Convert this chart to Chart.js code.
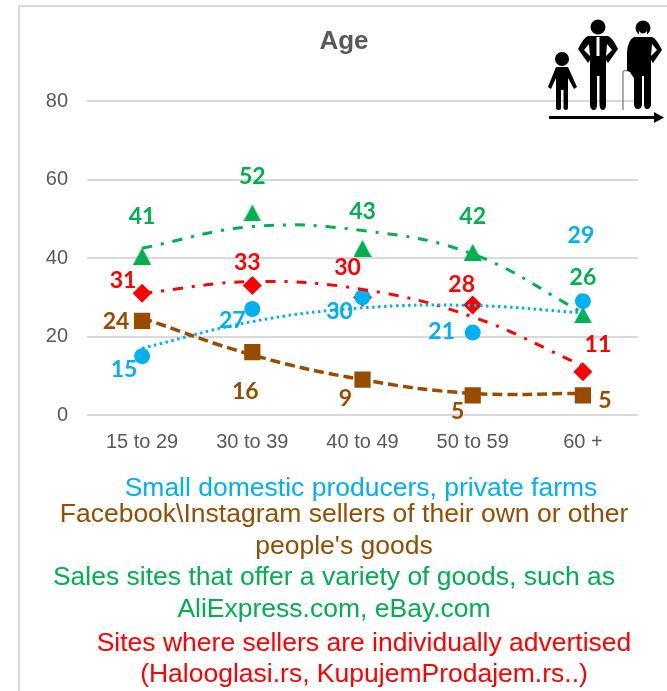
<!DOCTYPE html>
<html>
<head>
<meta charset="utf-8">
<title>Age</title>
<script src="https://cdn.jsdelivr.net/npm/chart.js@4"></script>
<style>
    html, body { margin: 0; padding: 0; background: #fff; overflow: hidden; }
    #wrap { position: relative; width: 667px; height: 691px; overflow: hidden; }
    #frame { position: absolute; left: 18px; top: 5px; width: 700px; height: 800px; border-left: 2px solid #d9d9d9; border-top: 2px solid #d9d9d9; }
    canvas { position: absolute; left: 0; top: 0; }
    #icon { position: absolute; left: 0; top: 0; }
    .txt { position: absolute; white-space: nowrap; transform: translate(-50%, -50%); font-family: "Liberation Sans", Arial, sans-serif; font-size: 26.5px; line-height: 30px; }
</style>
</head>
<body>
<div id="wrap">
    <div id="frame"></div>
    <canvas id="grafica" width="667" height="691"></canvas>
    <svg id="icon" width="667" height="691">
        <!-- nino -->
        <circle cx="562" cy="59" r="7" fill="#000"/>
        <path d="M556 67 H568 L577 87 L574 89 L568 78 V108 Q568 110 566 110 Q563.500 110 563.500 108 V90 H561 V108 Q561 110 559 110 Q556 110 556 108 V78 L551 89 L548 87 Z" fill="#000"/>
        <!-- hombre -->
        <circle cx="598" cy="27" r="7.500" fill="#000"/>
        <path d="M588 36 H608 Q612 37 618 49 L608 63 L606 60 V104 Q606 110 603 110 Q599.500 110 599.500 104 V76 H597 V104 Q597 110 594 110 Q590 110 590 104 V60 L588 63 L578 49 Q584 37 588 36 Z M589 44 L584 50 L590 56 Z M607 44 L606 56 L612 50 Z" fill="#000" fill-rule="evenodd"/>
        <rect x="596.500" y="37" width="3" height="19" fill="#fff"/>
        <!-- abuelo -->
        <circle cx="643" cy="28" r="7.500" fill="#000"/>
        <path d="M639 31 Q643 36 647 31 L647 35 Q643 38 639 35 Z" fill="#fff"/>
        <path d="M634 37 H652 Q656 38 662 50 L653 63 L651 60 V104 Q651 109 647 109 Q644 109 644 104 V76 H642 V104 Q642 109 638 109 Q634 109 634 104 V78 Q631 74 630 72 L627 71 V52 Q628 40 634 37 Z M652 44 L651 56 L657 50 Z" fill="#000" fill-rule="evenodd"/>
        <path d="M623 110 V72 Q623 70 627 71" fill="none" stroke="#777" stroke-width="1.2"/>
        <!-- flecha -->
        <path d="M549 116 H654 V112 L664 117.500 L654 123 V119 H549 Z" fill="#000"/>
    </svg>
    <div class="txt" style="left:361px;top:487px;color:#00b0f0">Small domestic producers, private farms</div>
    <div class="txt" style="left:344px;top:513px;color:#974c00">Facebook\Instagram sellers of their own or other</div>
    <div class="txt" style="left:344px;top:545px;color:#974c00">people's goods</div>
    <div class="txt" style="left:334px;top:576px;color:#00b050">Sales sites that offer a variety of goods, such as</div>
    <div class="txt" style="left:334px;top:608px;color:#00b050">AliExpress.com, eBay.com</div>
    <div class="txt" style="left:364px;top:642px;color:#ff0000">Sites where sellers are individually advertised</div>
    <div class="txt" style="left:364px;top:673px;color:#ff0000">(Halooglasi.rs, KupujemProdajem.rs..)</div>
</div>
<script>
// datos
const edades = ["15 to 29", "30 to 39", "40 to 49", "50 to 59", "60 +"];
const productores = [15, 27, 30, 21, 29];
const facebook = [24, 16, 9, 5, 5];
const ventas = [41, 52, 43, 42, 26];
const anuncios = [31, 33, 30, 28, 11];

// lineas de tendencia
const tendProductores = [17, 23.8, 27.3, 27.9, 26];
const tendFacebook = [24.7, 15.3, 9, 5.5, 5.5];
const tendVentas = [42.5, 48, 47, 41, 26];
const tendAnuncios = [31, 34, 32, 25, 12.5];

const ticksY = [0, 20, 40, 60, 80];

const azul = "#00b0f0";
const marron = "#974c00";
const verde = "#00b050";
const rojo = "#ff0000";

// desplazamiento de cada etiqueta respecto a su punto
const despProductores = [[-18, 13], [-20, 12], [-23, 14], [-31, -1], [-2, -66]];
const despFacebook = [[-26, 1], [-7, 39], [-17, 19], [-15, 16], [22, 5]];
const despVentas = [[0, -37], [0, -34], [0, -35], [0, -34], [0, -35]];
const despAnuncios = [[-19, -13], [-5, -23], [-15, -30], [-11, -21], [15, -27]];

// triangulo propio: el de Chart.js queda demasiado arriba del valor
const triangulo = document.createElement("canvas");
triangulo.width = 18;
triangulo.height = 21;
const ctxTri = triangulo.getContext("2d");
ctxTri.fillStyle = verde;
ctxTri.beginPath();
ctxTri.moveTo(9, 4);
ctxTri.lineTo(18, 21);
ctxTri.lineTo(0, 21);
ctxTri.closePath();
ctxTri.fill();

function tendencia(valores, color, dash, ancho) {
    return {
        data: valores,
        borderColor: color,
        borderWidth: ancho,
        borderDash: dash,
        pointRadius: 0,
        tension: 0.4,
        fill: false
    };
}

function puntos(valores, color, estilo, radio, desp) {
    return {
        data: valores,
        showLine: false,
        backgroundColor: color,
        borderColor: color,
        borderWidth: 0,
        pointStyle: estilo,
        pointRadius: radio,
        desp: desp
    };
}

const etiquetas = {
    id: "etiquetas",
    // el titulo va centrado sobre x=344, no sobre el area del grafico
    afterLayout(chart) {
        chart.titleBlock.left = 50;
    },
    afterDatasetsDraw(chart) {
        const ctx = chart.ctx;
        ctx.save();
        ctx.font = 'bold 23px Lato, "Open Sans", sans-serif';
        ctx.textAlign = "center";
        ctx.textBaseline = "middle";
        chart.data.datasets.forEach(function (ds, i) {
            if (!ds.desp) return;
            chart.getDatasetMeta(i).data.forEach(function (p, j) {
                ctx.fillStyle = ds.borderColor;
                ctx.fillText(ds.data[j], p.x + ds.desp[j][0], p.y + ds.desp[j][1]);
            });
        });
        ctx.restore();
    }
};

new Chart(document.getElementById("grafica").getContext("2d"), {
    type: "line",
    data: {
        labels: edades,
        datasets: [
            tendencia(tendFacebook, marron, [10, 5], 3.5),
            tendencia(tendProductores, azul, [2.5, 3.5], 3),
            tendencia(tendVentas, verde, [10, 9, 3, 9], 3),
            tendencia(tendAnuncios, rojo, [10, 9, 3, 9], 3),
            puntos(productores, azul, "circle", 8, despProductores),
            puntos(facebook, marron, "rect", 11.5, despFacebook),
            puntos(ventas, verde, triangulo, 10, despVentas),
            puntos(anuncios, rojo, "rectRot", 9.5, despAnuncios)
        ]
    },
    options: {
        responsive: false,
        animation: false,
        layout: { padding: { left: 17, right: 29, top: 0, bottom: 0 } },
        scales: {
            y: {
                min: 0,
                max: 80,
                afterBuildTicks(scale) {
                    scale.ticks = ticksY.map(function (v) { return { value: v }; });
                },
                afterFit(scale) { scale.width = 70; },
                border: { display: false },
                grid: { color: "#d9d9d9", lineWidth: 2, drawTicks: false },
                ticks: {
                    color: "#595959",
                    padding: 19,
                    font: { family: '"Liberation Sans", Arial, sans-serif', size: 20 }
                }
            },
            x: {
                offset: true,
                afterFit(scale) { scale.height = 276; },
                border: { display: false },
                grid: { display: false, drawTicks: false, offset: true },
                ticks: {
                    color: "#595959",
                    padding: 15,
                    maxRotation: 0,
                    font: { family: '"Liberation Sans", Arial, sans-serif', size: 20 }
                }
            }
        },
        plugins: {
            legend: { display: false },
            tooltip: { enabled: false },
            title: {
                display: true,
                text: "Age",
                color: "#595959",
                padding: { top: 26.4, bottom: 43.4 },
                font: { family: '"Liberation Sans", Arial, sans-serif', size: 26, weight: "bold" }
            }
        }
    },
    plugins: [etiquetas]
});
</script>
</body>
</html>
